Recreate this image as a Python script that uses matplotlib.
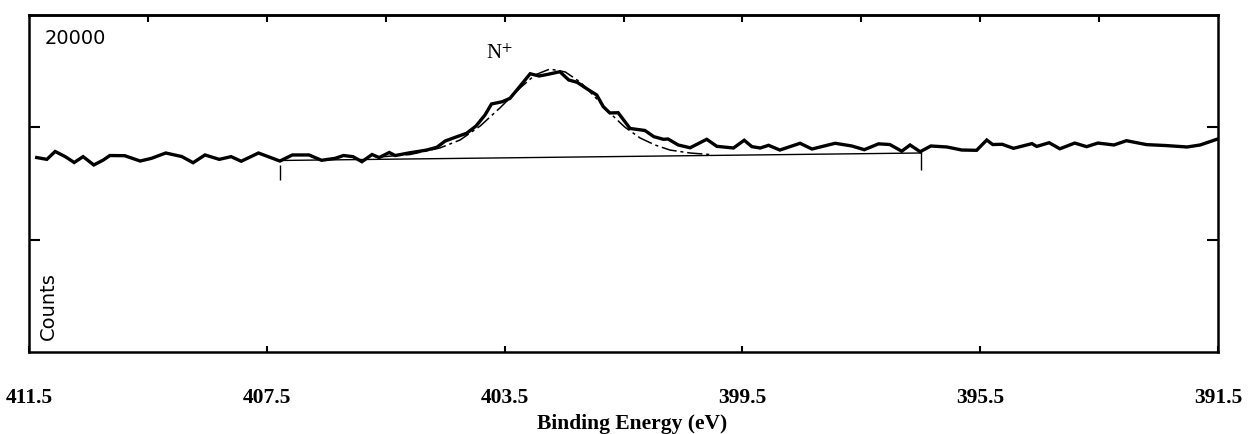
import matplotlib
matplotlib.use("Agg")
import matplotlib.pyplot as plt
from matplotlib.ticker import FixedLocator, NullFormatter

plt.rcParams['mathtext.fontset'] = 'stix'

# ---- data ----
energy = [411.37, 411.20, 411.06, 410.89, 410.74, 410.59, 410.41, 410.25, 410.14, 409.89,
          409.63, 409.44, 409.20, 408.93, 408.74, 408.54, 408.30, 408.10, 407.93, 407.64,
          407.28, 407.07, 406.79, 406.58, 406.35, 406.21, 406.05, 405.90, 405.73, 405.61,
          405.44, 405.34, 405.09, 404.98, 404.81, 404.64, 404.50, 404.30, 404.14, 403.98,
          403.83, 403.72, 403.54, 403.41, 403.27, 403.07, 402.92, 402.79, 402.57, 402.42,
          402.28, 402.11, 401.95, 401.84, 401.73, 401.59, 401.39, 401.14, 400.99, 400.83,
          400.75, 400.58, 400.38, 400.10, 399.93, 399.65, 399.47, 399.34, 399.20, 399.06,
          398.87, 398.53, 398.33, 397.94, 397.66, 397.45, 397.21, 397.02, 396.82, 396.68,
          396.51, 396.33, 396.06, 395.81, 395.56, 395.39, 395.29, 395.13, 394.94, 394.63,
          394.55, 394.34, 394.16, 393.91, 393.71, 393.52, 393.25, 393.04, 392.70, 392.38,
          392.02, 391.80, 391.52]
counts = [17310, 17150, 17850, 17390, 16870, 17390, 16650, 17090, 17490, 17475,
          17000, 17240, 17715, 17400, 16850, 17540, 17150, 17390, 16980, 17715,
          17000, 17540, 17540, 17065, 17240, 17490, 17390, 16940, 17580, 17310,
          17760, 17490, 17740, 17830, 17980, 18220, 18780, 19170, 19470, 20120,
          21100, 22080, 22280, 22580, 23475, 24770, 24570, 24700, 24950, 24210,
          24010, 23410, 22880, 21840, 21280, 21300, 19900, 19720, 19170, 18935,
          18960, 18430, 18180, 18935, 18310, 18160, 18850, 18280, 18160, 18400,
          17980, 18580, 18070, 18580, 18340, 18010, 18530, 18470, 17875, 18430,
          17830, 18340, 18250, 17980, 17955, 18870, 18470, 18490, 18130, 18550,
          18300, 18630, 18090, 18600, 18280, 18600, 18430, 18810, 18460, 18380,
          18250, 18430, 18935]

fit_energy = [405.60, 405.09, 404.59, 404.25, 403.91, 403.58, 403.24, 402.99, 402.74,
              402.48, 402.23, 401.98, 401.73, 401.48, 401.22, 400.97, 400.72, 400.38, 400.05]
fit_counts = [17360, 17580, 18160, 18870, 20120, 21720, 23500, 24660, 25190,
              24930, 24035, 22700, 21280, 20030, 19050, 18430, 17980, 17715, 17580]

baseline_energy = [407.27, 396.50]
baseline_counts = [17050, 17715]

marker_energy = [407.27, 396.50]
marker_low = [15310, 16200]
marker_high = [16650, 17980]

x_ticklabels = ["411.5", "407.5", "403.5", "399.5", "395.5", "391.5"]
x_major = [411.5, 407.5, 403.5, 399.5, 395.5, 391.5]
x_top = [409.5, 407.5, 405.5, 403.5, 401.5, 399.5, 397.5, 395.5, 393.5]
y_ticks = [10000, 20000]

# ---- figure ----
fig = plt.figure(figsize=(12.48, 4.34), dpi=100)
ax = fig.add_axes([29/1248, 1-352/434, 1189/1248, 337/434])

ax.plot(energy, counts, color='black', lw=2.4, solid_joinstyle='miter')
ax.plot(fit_energy, fit_counts, color='black', lw=1.1, linestyle=(0, (10, 2.5, 2, 2.5)))
ax.plot(baseline_energy, baseline_counts, color='black', lw=1.0)
ax.vlines(marker_energy, marker_low, marker_high, color='black', lw=1.0)

ax.set_xlim(411.5, 391.5)
ax.set_ylim(0, 30000)

for s in ax.spines.values():
    s.set_linewidth(1.8)

ax.xaxis.set_major_locator(FixedLocator(x_major))
ax.set_xticklabels(x_ticklabels, fontfamily='Liberation Serif', fontweight='bold', fontsize=15.5)
ax.tick_params(axis='x', direction='in', length=4, width=1.5, pad=26, bottom=True, top=False)
ax.yaxis.set_major_locator(FixedLocator(y_ticks))
ax.yaxis.set_major_formatter(NullFormatter())
ax.tick_params(axis='y', direction='in', length=8, width=1.5, left=True, right=True)

sec = ax.secondary_xaxis('top')
sec.xaxis.set_major_locator(FixedLocator(x_top))
sec.xaxis.set_major_formatter(NullFormatter())
sec.tick_params(direction='in', length=5, width=1.5)
sec.spines['top'].set_linewidth(1.8)

ax.set_xlabel("Binding Energy (eV)", fontfamily='Liberation Serif', fontweight='bold', fontsize=15.5)
ax.xaxis.set_label_coords((632-29)/1189, (352-424)/337)
ax.xaxis.label.set_va('center')

ax.text(16/1189, (352-29)/337, "20000", transform=ax.transAxes, fontsize=14,
        ha='left', va='top', fontfamily='DejaVu Sans')
ax.text(10/1189, 12/337, "Counts", transform=ax.transAxes, fontsize=14,
        rotation=90, ha='left', va='bottom', fontfamily='DejaVu Sans')
ax.text(403.58, 26080, "N$^{+}$", fontsize=15, fontfamily='Liberation Serif',
        ha='center', va='baseline')

fig.savefig("out.png", dpi=100)
